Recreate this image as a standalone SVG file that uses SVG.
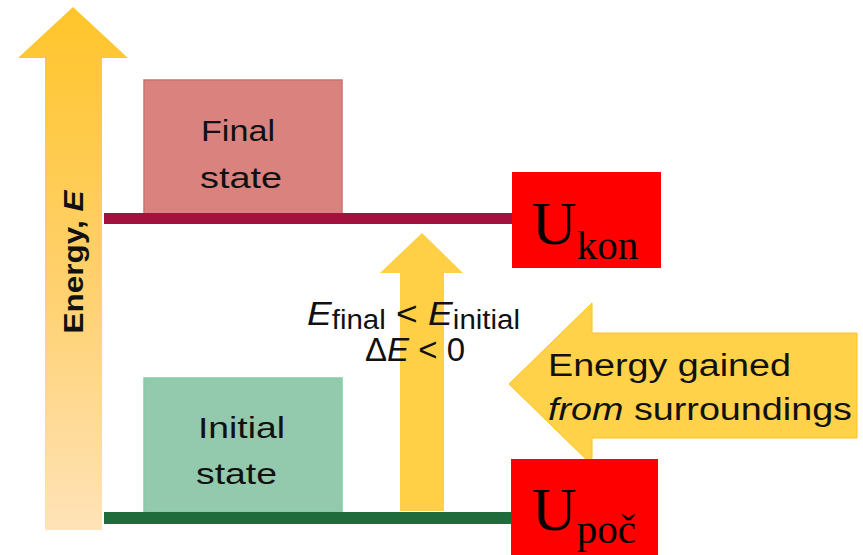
<svg xmlns="http://www.w3.org/2000/svg" width="863" height="555" viewBox="0 0 863 555">
<defs>
<linearGradient id="ga" x1="0" y1="0" x2="0" y2="1">
<stop offset="0" stop-color="#FFC52A"/>
<stop offset="0.55" stop-color="#FFD170"/>
<stop offset="1" stop-color="#FFE3B8"/>
</linearGradient>
</defs>
<style>
.t{font-family:"Liberation Sans",Arial,sans-serif;fill:#111;}
.u{font-family:"Liberation Serif","Times New Roman",serif;fill:#000;}
.arr{fill:#FFD24A;stroke:#FFC21A;stroke-width:1;}
</style>
<rect width="863" height="555" fill="#fff"/>
<g id="energy-axis">
<polygon points="73,7 128,58 102,58 102,530 45,530 45,58 18,58" fill="url(#ga)"/>
<text class="t" x="0" y="0" transform="translate(83,262) rotate(-90)" text-anchor="middle" font-size="28" font-weight="bold" textLength="143" lengthAdjust="spacingAndGlyphs">Energy, <tspan font-style="italic">E</tspan></text>
</g>
<g id="final-state">
<rect x="144" y="80" width="198" height="134" fill="#D9827E" stroke="#CF6F74" stroke-width="1.5"/>
<text class="t" x="201" y="141" font-size="30" textLength="74" lengthAdjust="spacingAndGlyphs">Final</text>
<text class="t" x="200" y="188" font-size="30" textLength="82" lengthAdjust="spacingAndGlyphs">state</text>
</g>
<g id="initial-state">
<rect x="144" y="378" width="198" height="134" fill="#93C9AC" stroke="#84CBA6" stroke-width="1.5"/>
<text class="t" x="198" y="438" font-size="30" textLength="87" lengthAdjust="spacingAndGlyphs">Initial</text>
<text class="t" x="196" y="484" font-size="30" textLength="81" lengthAdjust="spacingAndGlyphs">state</text>
</g>
<g id="connectors">
<rect x="104" y="213" width="408" height="11" fill="#A3123F"/>
<rect x="104" y="512" width="408" height="12" fill="#1F6B3B"/>
<polygon points="422,233 463,273 444,273 444,511 400,511 400,273 380,273" fill="#FFCF45"/>
<polygon class="arr" points="509,384 592,303 592,333 857,333 857,438 592,438 592,465"/>
</g>
<g id="delta-label">
<text class="t" x="307" y="325" font-size="34" textLength="213" lengthAdjust="spacingAndGlyphs"><tspan font-style="italic">E</tspan><tspan font-size="27" dy="4">final</tspan><tspan dy="-4"> &lt; </tspan><tspan font-style="italic">E</tspan><tspan font-size="27" dy="4">initial</tspan></text>
<text class="t" x="365" y="361" font-size="33" textLength="100" lengthAdjust="spacingAndGlyphs">Δ<tspan font-style="italic">E</tspan> &lt; 0</text>
</g>
<g id="surroundings-label">
<text class="t" x="548" y="376" font-size="31" textLength="243" lengthAdjust="spacingAndGlyphs">Energy gained</text>
<text class="t" x="548" y="420" font-size="31" textLength="304" lengthAdjust="spacingAndGlyphs"><tspan font-style="italic">from</tspan> surroundings</text>
</g>
<g id="u-kon">
<rect x="512" y="172" width="149" height="96" fill="#FF0000"/>
<text class="u" x="532" y="244" font-size="62">U<tspan font-size="41" dy="15">kon</tspan></text>
</g>
<g id="u-poc">
<rect x="511" y="459" width="147" height="96" fill="#FF0000"/>
<text class="u" x="532" y="530" font-size="62">U<tspan font-size="41" dy="13">poč</tspan></text>
</g>
</svg>
